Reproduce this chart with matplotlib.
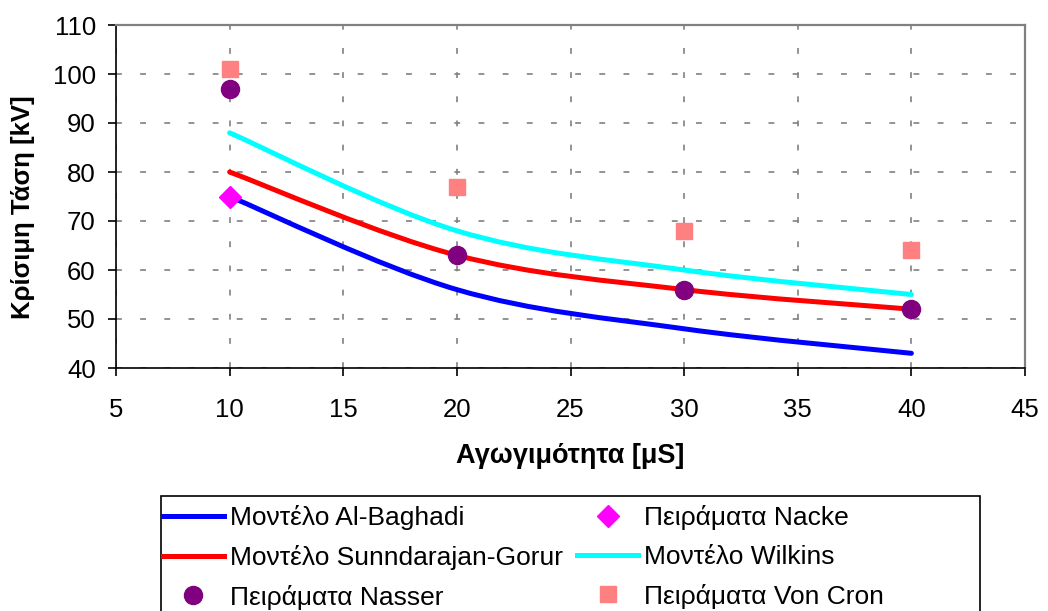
import numpy as np
import matplotlib
matplotlib.use("Agg")
from matplotlib import pyplot as plt
from matplotlib.path import Path
from matplotlib.patches import PathPatch, Rectangle
from matplotlib.lines import Line2D

plt.rcParams['font.family'] = ['Liberation Sans', 'DejaVu Sans']

# conductivity [uS]
x_model = [10, 20, 30, 40]
albaghadi = [75, 56, 48, 43]
sundarajan = [80, 63, 56, 52]
wilkins = [88, 68, 60, 55]

x_nasser = [10, 20, 30, 40]
nasser = [97, 63, 56, 52]
x_nacke = [10]
nacke = [75]
x_voncron = [10, 20, 30, 40]
voncron = [101, 77, 68, 64]


def smooth_path(xs, ys):
    # excel-like smoothed line drawn as cubic bezier segments
    p = np.column_stack([xs, ys]).astype(float)
    n = len(p)
    verts = [p[0]]
    codes = [Path.MOVETO]
    for i in range(n - 1):
        p0 = p[i - 1] if i > 0 else p[i]
        p3 = p[i + 2] if i + 2 < n else p[i + 1]
        c1 = p[i] + (p[i + 1] - p0) / 6.0
        c2 = p[i + 1] - (p3 - p[i]) / 6.0
        verts += [c1, c2, p[i + 1]]
        codes += [Path.CURVE4] * 3
    return Path(verts, codes)


W, H = 1048, 611
fig = plt.figure(figsize=(W / 100, H / 100), dpi=100)
ax = fig.add_axes([116 / W, 1 - 368 / H, (1025 - 116) / W, (368 - 25) / H])

lw = 3.6
for ys, col in [(albaghadi, '#0000FF'), (sundarajan, '#FF0000'), (wilkins, '#00FFFF')]:
    ax.add_patch(PathPatch(smooth_path(x_model, ys), fill=False, edgecolor=col,
                           lw=lw, capstyle='round', zorder=3))

ax.plot(x_nasser, nasser, 'o', color='#800080', ms=13, ls='none', zorder=4)
ax.plot(x_nacke, nacke, 'D', color='#FF00FF', ms=11, ls='none', zorder=4)
ax.plot(x_voncron, voncron, 's', color='#FF8080', ms=11, ls='none', zorder=4)

ax.set_xlim(5, 45)
ax.set_ylim(40, 110)
ax.set_xticks(np.arange(5, 46, 5))
ax.set_yticks(np.arange(40, 111, 10))
ax.tick_params(labelsize=18.5, direction='out', length=5.5, width=1.2)
ax.tick_params(axis='x', pad=16)
ax.tick_params(axis='y', pad=9)
ax.grid(True, color='#808080', linestyle=(0, (3.5, 11)), linewidth=1.2)
ax.set_axisbelow(True)
for s in ['top', 'right']:
    ax.spines[s].set_color('#808080')
    ax.spines[s].set_linewidth(1.6)
for s in ['left', 'bottom']:
    ax.spines[s].set_linewidth(1.2)

ax.set_xlabel('Αγωγιμότητα [μS]', fontsize=19.5, fontweight='bold', labelpad=15)
ax.set_ylabel('Κρίσιμη Τάση [kV]', fontsize=18.5, fontweight='bold')
ax.yaxis.set_label_coords(-0.089, 0.468)

handles = [
    Line2D([], [], color='#0000FF', lw=lw),
    Line2D([], [], color='#FF0000', lw=lw),
    Line2D([], [], marker='o', color='#800080', ms=13, ls='none'),
    Line2D([], [], marker='D', color='#FF00FF', ms=11, ls='none'),
    Line2D([], [], color='#00FFFF', lw=lw),
    Line2D([], [], marker='s', color='#FF8080', ms=11, ls='none'),
]
labels = ['Μοντέλο Al-Baghadi', 'Μοντέλο Sunndarajan-Gorur', 'Πειράματα Nasser',
          'Πειράματα Nacke', 'Μοντέλο Wilkins', 'Πειράματα Von Cron']
leg = fig.legend(handles, labels, ncol=2, loc='upper left',
                 bbox_to_anchor=(163 / W, 1 - 505 / H),
                 fontsize=19, frameon=False, handlelength=2.3, handletextpad=0.23,
                 labelspacing=0.56, borderpad=0.0, borderaxespad=0.0,
                 columnspacing=0.55)

# legend box, runs past the bottom edge like the original
fig.patches.append(Rectangle((161 / W, -0.05), (980 - 161) / W, 1 - 496 / H + 0.05,
                             transform=fig.transFigure, fill=False,
                             edgecolor='black', lw=1.2))

fig.savefig('out.png', dpi=100)
